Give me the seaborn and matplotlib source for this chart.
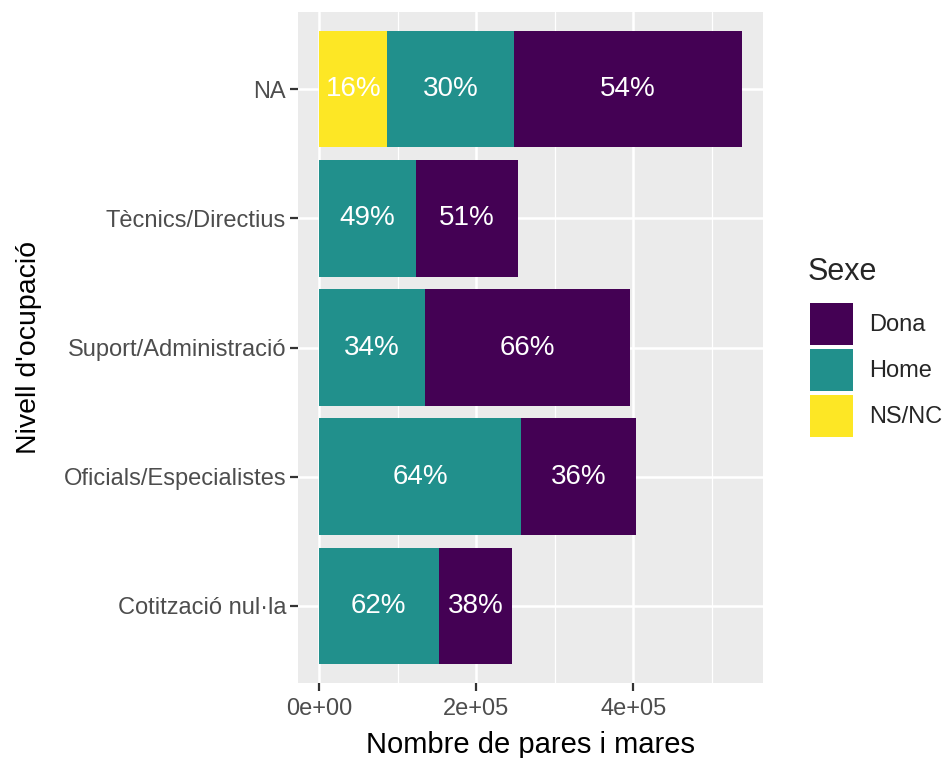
import numpy as np
import pandas as pd
import matplotlib
matplotlib.use("Agg")
import matplotlib.pyplot as plt
import seaborn as sns
from matplotlib.patches import Patch

# Données
nivells = ["NA", "Tècnics/Directius", "Suport/Administració",
           "Oficials/Especialistes", "Cotització nul·la"]
dona = [290000, 130000, 260000, 146000, 94000]
home = [161000, 123000, 135000, 257000, 152000]
nsnc = [87000, 0, 0, 0, 0]

colors = {"Dona": "#440154", "Home": "#21908C", "NS/NC": "#FDE725"}

df = pd.DataFrame({"Nivell": nivells, "Dona": dona, "Home": home, "NS/NC": nsnc})
df["total"] = df["Dona"] + df["Home"] + df["NS/NC"]
df["cum_home"] = df["Home"] + df["NS/NC"]

sns.set_style("white")
plt.rcParams["font.family"] = ["Liberation Sans", "DejaVu Sans"]

fig = plt.figure(figsize=(9.44, 7.58), dpi=100)
ax = fig.add_axes([298 / 944, 1 - 683 / 758, (763 - 298) / 944, (683 - 12) / 758])
ax.set_facecolor("#EBEBEB")

# Barres empilées : on superpose les cumuls
for col, c in [("total", "Dona"), ("cum_home", "Home"), ("NS/NC", "NS/NC")]:
    sns.barplot(data=df, x=col, y="Nivell", order=nivells, color=colors[c],
                width=0.9, saturation=1, linewidth=0, ax=ax, zorder=3)

# Etiquettes de pourcentage
for i, row in df.iterrows():
    start = 0
    for s in ["NS/NC", "Home", "Dona"]:
        v = row[s]
        if v > 0:
            pct = round(100 * v / row["total"])
            ax.text(start + v / 2, i, f"{pct}%", color="white", ha="center",
                    va="center", fontsize=20, zorder=4)
        start += v

xmax = df["total"].max()
ax.set_xlim(-0.05 * xmax, 1.05 * xmax)
ax.set_ylim(len(nivells) - 0.4, -0.6)
ax.set_xticks([0, 200000, 400000])
ax.set_xticklabels(["0e+00", "2e+05", "4e+05"])
ax.set_xticks([100000, 300000, 500000], minor=True)
ax.grid(True, which="major", color="white", linewidth=1.8, zorder=0)
ax.grid(True, which="minor", axis="x", color="white", linewidth=0.9, zorder=0)
ax.set_axisbelow(True)
for sp in ax.spines.values():
    sp.set_visible(False)
ax.tick_params(axis="both", which="major", length=5.5, width=1.6, color="#333333",
               labelsize=17, labelcolor="#4D4D4D", pad=3, left=True, bottom=True)
ax.tick_params(axis="x", which="major", pad=5)
ax.tick_params(axis="x", which="minor", length=0)
ax.set_xlabel("Nombre de pares i mares", fontsize=21, color="black", labelpad=8)
ax.set_ylabel("Nivell d'ocupació", fontsize=20.5, color="black")
ax.yaxis.set_label_coords((42 - 298) / 465, 0.5)

# Légende
fig.text(808 / 944, 1 - 272 / 758, "Sexe", fontsize=22, ha="left", va="center")
handles = [Patch(facecolor=colors[k], edgecolor="none", label=k)
           for k in ["Dona", "Home", "NS/NC"]]
fig.legend(handles=handles, loc="upper left",
           bbox_to_anchor=(810 / 944, 1 - 303 / 758), frameon=False,
           fontsize=17, handlelength=1.8, handleheight=2.36,
           labelspacing=0.17, handletextpad=0.7,
           borderpad=0, borderaxespad=0)

fig.savefig("out.png", dpi=100)
